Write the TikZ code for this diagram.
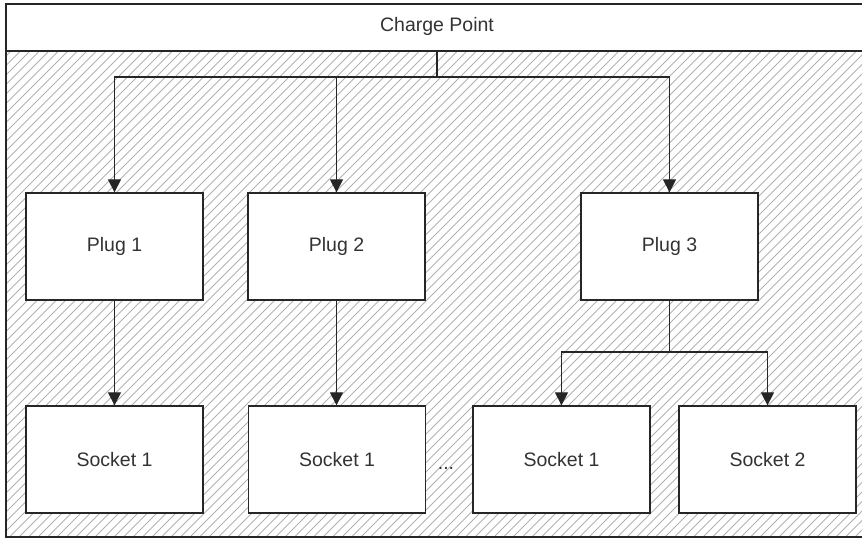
\documentclass[tikz,border=0pt]{standalone}
\usepackage{fontspec}
\setmainfont{Liberation Sans}
\usetikzlibrary{arrows.meta}
\tikzset{
  box/.style={draw=black!85, line width=1.3pt, fill=white, minimum width=177pt, minimum height=107pt, inner sep=0pt, text=black!80, font=\fontsize{19.5}{22}\selectfont},
  conn/.style={draw=black!85, line width=1.2pt},
  arr/.style={conn, -{Triangle[length=13pt,width=13pt]}},
  hatch/.style={draw=black!30, line width=1pt}
}
\begin{document}
\begin{tikzpicture}[x=1pt,y=-1pt]
\useasboundingbox (0,0) rectangle (862,538);
% hatched area
\begin{scope}
  \clip (6,51) rectangle (866,537);
  \foreach \i in {-540,-530.5,...,880} {
    \draw[hatch] (\i,545) -- (\i+545,0);
  }
\end{scope}
% header
\node[draw=none, fill=white, minimum width=860pt, minimum height=47pt, inner sep=0pt, anchor=north west] (hdr) at (6,4) {};
\node[text=black!80, font=\fontsize{19.5}{22}\selectfont] (title) at (437,26) {Charge Point};
\draw[line width=1.6pt, draw=black!85] (6,51) -- (866,51);
\draw[line width=2pt, draw=black!85] (6,4) rectangle (866,537);
% plugs
\node[box] (p1) at (114.5,246.5) {Plug 1};
\node[box] (p2) at (336.5,246.5) {Plug 2};
\node[box] (p3) at (669.5,246.5) {Plug 3};
% sockets
\node[box] (s1) at (114.5,459.5) {Socket 1};
\node[box] (s2) at (337,459.5) {Socket 1};
\node[box] (s3) at (561.5,459.5) {Socket 1};
\node[box] (s4) at (767.5,459.5) {Socket 2};
\node[font=\fontsize{19.5}{22}\selectfont, text=black!80, anchor=base, inner sep=0pt] (dots) at (446,469) {...};
% connectors
\coordinate (top) at (437,51);
\coordinate (j) at (437,77);
\draw[conn] (top) -- (j);
\draw[arr] (j) -| (p1);
\draw[arr] (j) -| (p2);
\draw[arr] (j) -| (p3);
\draw[arr] (p1) -- (s1);
\draw[arr] (p2) -- (p2 |- s2.north);
\coordinate (k) at (669.5,352);
\draw[conn] (p3) -- (k);
\draw[arr] (k) -| (s3);
\draw[arr] (k) -| (s4);
\end{tikzpicture}
\end{document}
